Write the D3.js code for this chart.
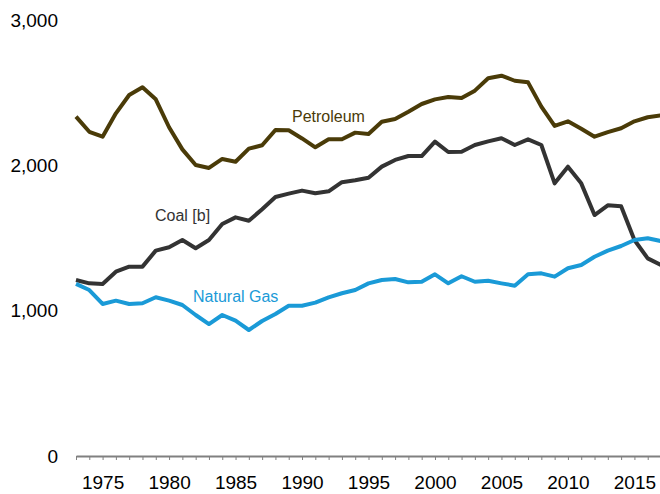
<!DOCTYPE html>
<html>
<head>
<meta charset="utf-8">
<script src="https://cdnjs.cloudflare.com/ajax/libs/d3/7.8.5/d3.min.js"></script>
<style>
body { margin:0; background:#fff; }
text { font-family: "Liberation Sans", Arial, sans-serif; }
.axis path, .axis line { stroke:#808080; }
</style>
</head>
<body>
<div id="chart"></div>
<script>
var years = d3.range(1973, 2018);
var petroleum = [2335,2231,2197,2358,2484,2537,2454,2262,2110,2002,1982,2044,2025,2115,2138,2243,2241,2185,2124,2179,2179,2225,2216,2300,2319,2369,2422,2454,2470,2463,2514,2599,2617,2582,2571,2404,2271,2303,2252,2197,2229,2255,2303,2331,2344];
var coal = [1211,1188,1184,1268,1303,1303,1413,1436,1486,1429,1486,1596,1642,1619,1698,1782,1805,1826,1808,1821,1884,1897,1914,1991,2037,2064,2064,2163,2092,2094,2140,2165,2186,2140,2179,2140,1876,1991,1876,1658,1725,1718,1486,1360,1314];
var naturalGas = [1184,1142,1046,1069,1046,1051,1092,1069,1039,970,908,970,931,867,929,977,1034,1034,1055,1092,1120,1142,1188,1211,1218,1195,1199,1250,1188,1237,1199,1206,1188,1172,1250,1257,1234,1292,1314,1371,1413,1445,1486,1498,1479];
var seriesNames = ["Petroleum", "Coal [b]", "Natural Gas"];
var yTicks = [0,1000,2000,3000];
var xTicks = [1975,1980,1985,1990,1995,2000,2005,2010,2015];

var series = [
	{name:seriesNames[0], values:petroleum, color:"#4a3b08"},
	{name:seriesNames[1], values:coal, color:"#333333"},
	{name:seriesNames[2], values:naturalGas, color:"#1a9ad7"}
];
// label positions in px (start of text, baseline)
var labelX = [292, 155, 193];
var labelY = [122, 221, 302];

var draw = function(){
	var svg = d3.select("#chart").append("svg").attr("width", 660).attr("height", 494);

	var x = d3.scaleLinear().domain([1973, 2017]).range([76, 661]);
	var y = d3.scaleLinear().domain([0, 3000]).range([456, 20]);

	// x axis: a tick every year, labels every 5
	var xAxis = d3.axisBottom(x).tickValues(years).tickSizeInner(4).tickSizeOuter(0)
		.tickFormat(function(d){ return xTicks.indexOf(d) >= 0 ? d : ""; });
	var gx = svg.append("g").attr("class", "x axis").attr("transform", "translate(0,456)").call(xAxis);
	gx.select(".domain").attr("stroke-width", 2);
	gx.selectAll("text").attr("font-size", 19).attr("fill", "#000").attr("dy", "1.35em");

	var yAxis = d3.axisLeft(y).tickValues(yTicks).tickSize(0).tickFormat(d3.format(","));
	var gy = svg.append("g").attr("class", "y axis").attr("transform", "translate(60,0)").call(yAxis);
	gy.select(".domain").remove();
	gy.selectAll("text").attr("font-size", 19).attr("fill", "#000").attr("x", -2);

	var line = d3.line()
		.x(function(d, i){ return x(years[i]); })
		.y(function(d){ return y(d); });

	for (var k = 0; k < series.length; k++) {
		svg.append("path").datum(series[k].values)
			.attr("fill", "none")
			.attr("stroke", series[k].color)
			.attr("stroke-width", 4)
			.attr("stroke-linejoin", "round")
			.attr("d", line);

		svg.append("text")
			.attr("x", labelX[k]).attr("y", labelY[k])
			.attr("font-size", 16)
			.attr("fill", series[k].color)
			.text(series[k].name);
	}
};

window.onload = function(){
	draw();
};
</script>
</body>
</html>
